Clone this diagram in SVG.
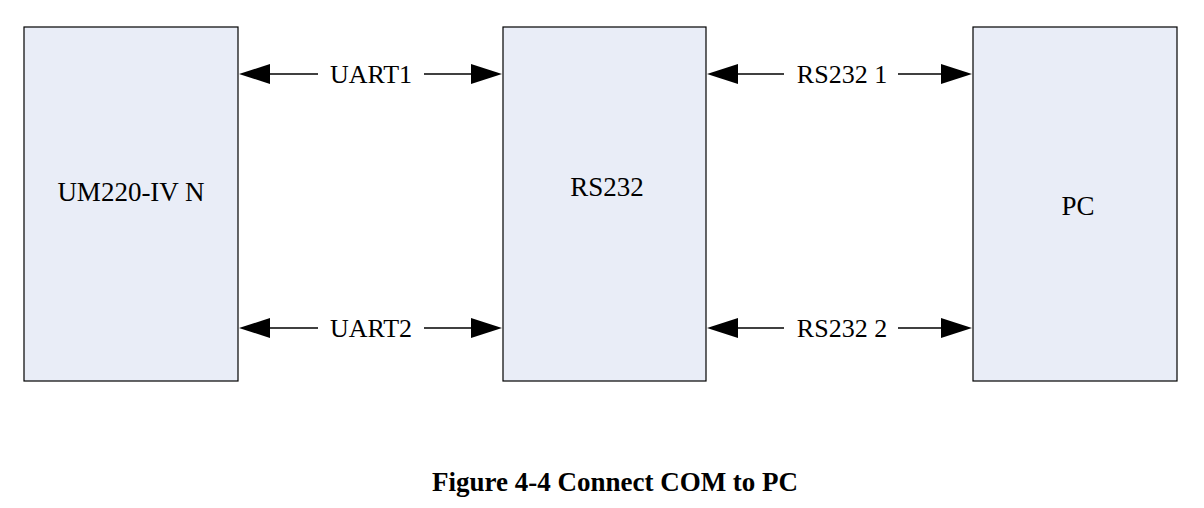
<svg xmlns="http://www.w3.org/2000/svg" width="1204" height="508" viewBox="0 0 1204 508">
<style>
.box{fill:#e9edf7;stroke:#000;stroke-width:1.2}
.t{font-family:"Liberation Serif",serif;font-size:27px;fill:#000}
.l{font-family:"Liberation Serif",serif;font-size:26px;fill:#000;text-anchor:middle}
.c{stroke:#000;stroke-width:1.3;fill:none}
.a{fill:#000}
</style>
<rect width="1204" height="508" fill="#fff"/>
<g id="um220"><rect class="box" x="24" y="27" width="214" height="354"/><text class="t" x="131" y="201" text-anchor="middle">UM220-IV N</text></g>
<g id="rs232"><rect class="box" x="503" y="27" width="203" height="354"/><text class="t" x="607" y="196" text-anchor="middle">RS232</text></g>
<g id="pc"><rect class="box" x="973" y="27" width="204" height="354"/><text class="t" x="1078" y="215" text-anchor="middle">PC</text></g>
<g id="connectors">
<line class="c" x1="268" y1="74" x2="318" y2="74"/><line class="c" x1="424" y1="74" x2="473" y2="74"/>
<polygon class="a" points="239,74 270,64 270,84"/><polygon class="a" points="502,74 471,64 471,84"/>
<text class="l" x="371" y="83">UART1</text>
<line class="c" x1="268" y1="328" x2="318" y2="328"/><line class="c" x1="424" y1="328" x2="473" y2="328"/>
<polygon class="a" points="239,328 270,318 270,338"/><polygon class="a" points="502,328 471,318 471,338"/>
<text class="l" x="371" y="337">UART2</text>
<line class="c" x1="737" y1="74" x2="784" y2="74"/><line class="c" x1="898" y1="74" x2="943" y2="74"/>
<polygon class="a" points="707,74 738,64 738,84"/><polygon class="a" points="972,74 941,64 941,84"/>
<text class="l" x="842" y="83">RS232 1</text>
<line class="c" x1="737" y1="328" x2="784" y2="328"/><line class="c" x1="898" y1="328" x2="943" y2="328"/>
<polygon class="a" points="707,328 738,318 738,338"/><polygon class="a" points="972,328 941,318 941,338"/>
<text class="l" x="842" y="337">RS232 2</text>
</g>
<text x="615" y="491" text-anchor="middle" font-family="Liberation Serif,serif" font-weight="bold" font-size="27px">Figure 4-4 Connect COM to PC</text>
</svg>
